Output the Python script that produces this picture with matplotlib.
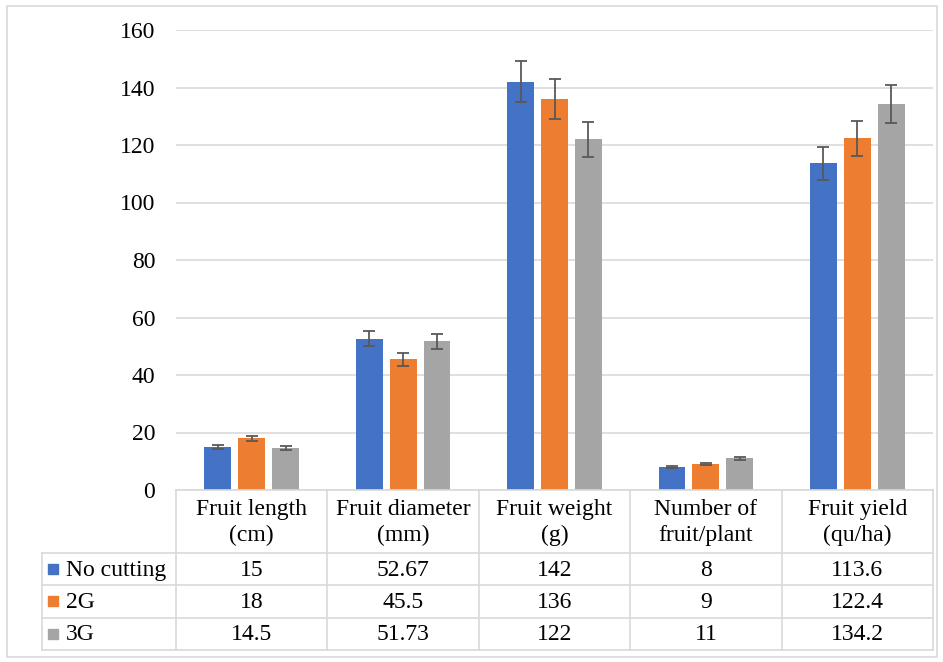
import matplotlib
matplotlib.use("Agg")
import matplotlib.pyplot as plt
from matplotlib.lines import Line2D
from matplotlib.patches import Rectangle
import numpy as np

categories = ["Fruit length\n(cm)", "Fruit diameter\n(mm)", "Fruit weight\n(g)",
              "Number of\nfruit/plant", "Fruit yield\n(qu/ha)"]
series_names = ["No cutting", "2G", "3G"]
no_cutting = [15, 52.67, 142, 8, 113.6]
g2 = [18, 45.5, 136, 9, 122.4]
g3 = [14.5, 51.73, 122, 11, 134.2]
err_no_cutting = [0.75, 2.63, 7.1, 0.4, 5.68]
err_g2 = [0.9, 2.28, 6.8, 0.45, 6.12]
err_g3 = [0.73, 2.59, 6.1, 0.55, 6.71]
value_labels = [["15", "52.67", "142", "8", "113.6"],
                ["18", "45.5", "136", "9", "122.4"],
                ["14.5", "51.73", "122", "11", "134.2"]]
yticks = [0, 20, 40, 60, 80, 100, 120, 140, 160]

colors = ["#4472C4", "#ED7D31", "#A5A5A5"]
W, H = 943, 662
FONT = "Liberation Serif"
FS = 17
GRID = "#D9D9D9"

fig = plt.figure(figsize=(W / 100, H / 100), dpi=100)

# pixel geometry
L, R = 176, 933
TOP, BASE = 30, 490
ax = fig.add_axes([L / W, 1 - BASE / H, (R - L) / W, (BASE - TOP) / H])
n = len(categories)
x = np.arange(n)
bw = 0.178
step = 0.224
series = [no_cutting, g2, g3]
errs = [err_no_cutting, err_g2, err_g3]
for i, (vals, e) in enumerate(zip(series, errs)):
    ax.bar(x + (i - 1) * step, vals, width=bw, color=colors[i], zorder=2)
    ax.errorbar(x + (i - 1) * step, vals, yerr=e, fmt="none", ecolor="#595959",
                elinewidth=1.3, capsize=4.5, capthick=1.3, zorder=3)
ax.set_xlim(-0.5, n - 0.5)
ax.set_ylim(0, 160)
ax.set_yticks(yticks)
ax.set_yticklabels([str(t) for t in yticks], fontsize=FS, family=FONT)
ax.tick_params(axis="y", length=0, pad=15)
ax.set_xticks([])
ax.yaxis.grid(True, color=GRID, linewidth=1.2, zorder=0)
ax.set_axisbelow(True)
for s in ax.spines.values():
    s.set_visible(False)

# overlay for table
ov = fig.add_axes([0, 0, 1, 1])
ov.set_xlim(0, W)
ov.set_ylim(H, 0)
ov.axis("off")
ov.patch.set_alpha(0)

cw = (R - L) / n
HDR_B = 553
row_h = 32.3
rows_y = [HDR_B + k * row_h for k in range(4)]
TL = 42
lc = GRID
lw = 1.2
# outer chart border
ov.add_patch(Rectangle((7, 6), 930, 651, fill=False, edgecolor=GRID, linewidth=1.2))
# table lines
ov.add_line(Line2D([L, R], [BASE, BASE], color=lc, lw=lw))
for yy in rows_y:
    ov.add_line(Line2D([TL, R], [yy, yy], color=lc, lw=lw))
for k in range(n + 1):
    ov.add_line(Line2D([L + k * cw, L + k * cw], [BASE, rows_y[-1]], color=lc, lw=lw))
ov.add_line(Line2D([TL, TL], [HDR_B, rows_y[-1]], color=lc, lw=lw))

for k, c in enumerate(categories):
    ov.text(L + (k + 0.5) * cw, (BASE + HDR_B) / 2 + 1, c, ha="center", va="center",
            fontsize=FS, family=FONT, linespacing=1.3)
for r in range(3):
    yc = (rows_y[r] + rows_y[r + 1]) / 2
    ov.add_patch(Rectangle((48, yc - 5), 10, 10, color=colors[r]))
    ov.text(66, yc + 1, series_names[r], ha="left", va="center", fontsize=FS, family=FONT)
    for k in range(n):
        ov.text(L + (k + 0.5) * cw, yc + 1, value_labels[r][k], ha="center", va="center",
                fontsize=FS, family=FONT)

fig.savefig("out.png", dpi=100)
